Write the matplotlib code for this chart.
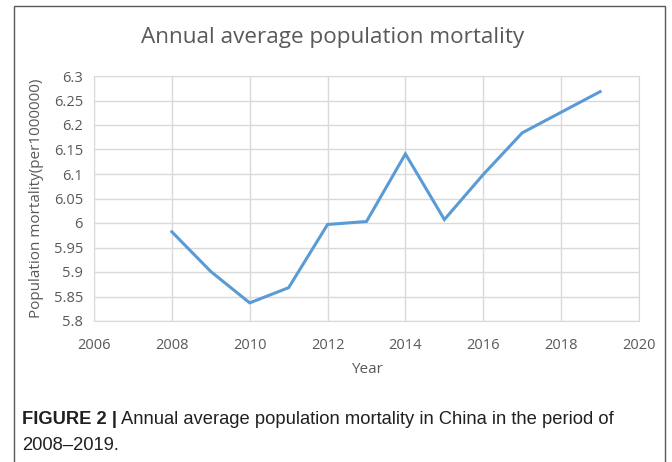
import matplotlib
matplotlib.use('Agg')
import matplotlib.pyplot as plt
from matplotlib.patches import Rectangle

years = [2008, 2009, 2010, 2011, 2012, 2013, 2014, 2015, 2016, 2017, 2018, 2019]
mortality = [5.982, 5.901, 5.837, 5.868, 5.997, 6.003, 6.141, 6.007, 6.099, 6.184, 6.226, 6.268]
xticks = [2006, 2008, 2010, 2012, 2014, 2016, 2018, 2020]
yticks = [5.8, 5.85, 5.9, 5.95, 6.0, 6.05, 6.1, 6.15, 6.2, 6.25, 6.3]
ytick_labels = ['5.8', '5.85', '5.9', '5.95', '6', '6.05', '6.1', '6.15', '6.2', '6.25', '6.3']

plt.rcParams['font.family'] = ['Open Sans', 'DejaVu Sans']
grey = '#595959'

fig = plt.figure(figsize=(6.72, 4.62), dpi=100)
W, H = 672, 462
ax = fig.add_axes([94 / W, 1 - 321 / H, (639 - 94) / W, (321 - 76) / H])

ax.plot(years, mortality, color='#5b9bd5', linewidth=2.2, solid_joinstyle='miter')
ax.set_xlim(2006, 2020)
ax.set_ylim(5.8, 6.3)
ax.set_xticks(xticks)
ax.set_yticks(yticks)
ax.set_yticklabels(ytick_labels)
ax.grid(True, color='#d9d9d9', linewidth=1)
ax.set_axisbelow(True)
for s in ax.spines.values():
    s.set_color('#d9d9d9')
ax.tick_params(length=0, colors=grey, labelsize=10.5)
ax.tick_params(axis='x', pad=12)
ax.tick_params(axis='y', pad=8)

ax.set_xlabel('Year', color=grey, fontsize=11, labelpad=7)
ax.set_ylabel('Population mortality(per1000000)', color=grey, fontsize=11, labelpad=7)
fig.text(333 / W, 1 - 37 / H, 'Annual average population mortality', color=grey,
         fontsize=16.2, ha='center', va='center')

# outer frame
fig.patches.append(Rectangle((14 / W, -0.01), (665 - 14) / W, 1.01 - 6 / H, transform=fig.transFigure,
                             fill=False, edgecolor='#595959', linewidth=1))

cap_font = ['Liberation Sans Narrow', 'Liberation Sans', 'DejaVu Sans']
t1 = fig.text(22 / W, 1 - 420 / H, 'FIGURE 2 |', fontsize=13.2, fontweight='bold',
              family=cap_font, color='#231f20', va='center')
fig.canvas.draw()
bb = t1.get_window_extent()
fig.text(bb.x1 / W + 4 / W, 1 - 420 / H, 'Annual average population mortality in China in the period of',
         fontsize=13.2, family=cap_font, color='#231f20', va='center')
fig.text(22 / W, 1 - 445 / H, '2008\u20132019.', fontsize=13.2, family=cap_font,
         color='#231f20', va='center')

fig.savefig('out.png', dpi=100)
